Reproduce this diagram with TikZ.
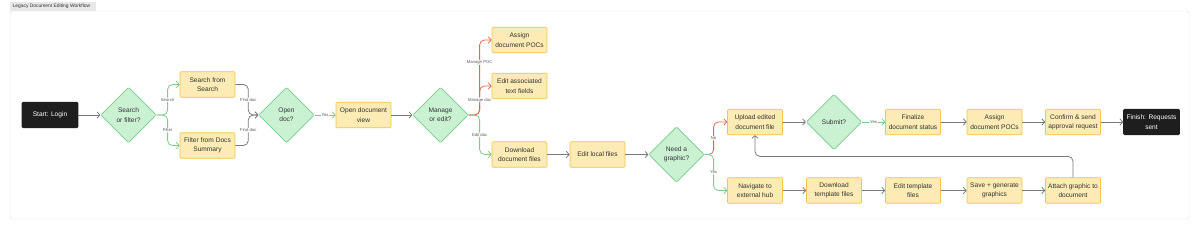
\documentclass[tikz,border=0pt]{standalone}
\usepackage{fontspec}
\setmainfont{Liberation Sans}
\usetikzlibrary{arrows.meta, positioning, shapes.geometric}
\definecolor{boxfill}{HTML}{FCEBB4}
\definecolor{boxline}{HTML}{F2C54B}
\definecolor{decfill}{HTML}{CBF1D3}
\definecolor{decline}{HTML}{72CE8B}
\definecolor{linkgray}{HTML}{7A7A7A}
\definecolor{linkgreen}{HTML}{7BCB8C}
\definecolor{linkred}{HTML}{DE6A4E}
\definecolor{termfill}{HTML}{1E1E1E}
\tikzset{
  stepbox/.style={rectangle, rounded corners=1.5pt, fill=boxfill, draw=boxline, line width=0.9pt,
    minimum width=2.75cm, minimum height=1.28cm, align=center, inner sep=1pt,
    font=\fontsize{9.4}{13.4}\selectfont, text=black!80},
  term/.style={stepbox, fill=termfill, draw=termfill, text=white, minimum width=2.8cm},
  decide/.style={diamond, aspect=1, rounded corners=1.5pt, fill=decfill, draw=decline, line width=0.9pt,
    minimum width=2.78cm, minimum height=2.78cm, inner sep=0pt, align=center,
    font=\fontsize{9.4}{13.4}\selectfont, text=black!80},
  link/.style={-{Straight Barb[length=4pt, width=9pt]}, line width=1.1pt, linkgray, rounded corners=7pt},
  yeslink/.style={link, linkgreen},
  nolink/.style={link, linkred},
  elab/.style={fill=white, inner sep=0.8pt, font=\fontsize{6}{7}\selectfont, text=black!65},
}

\begin{document}
\begin{tikzpicture}[x=0.05cm, y=-0.05cm]
  \useasboundingbox (0,0) rectangle (1200,231);
  % frame and title tab
  \draw[black!10, fill=white, rounded corners=4pt, line width=0.6pt] (10,11) rectangle (1189,219);
  \fill[black!9] (10,2) rectangle (96,11);
  \node[anchor=west, inner sep=0pt, font=\fontsize{7}{8}\selectfont, text=black!80] (title) at (12.5,6.5) {Legacy Document Editing Workflow};

  % find a document
  \node[term] (start) at (50,115) {Start: Login};
  \node[decide] (sof) at (128.5,115) {Search\\or filter?};
  \node[stepbox] (ss) at (207.5,84.5) {Search from\\Search};
  \node[stepbox] (fs) at (207.5,145.5) {Filter from Docs\\Summary};
  \node[decide] (od) at (286.5,115) {Open\\doc?};
  \node[stepbox] (odv) at (363.5,115) {Open document\\view};
  \node[decide] (me) at (440.5,115) {Manage\\or edit?};

  % manage or edit
  \node[stepbox] (apoc) at (519.5,40) {Assign\\document POCs};
  \node[stepbox] (eatf) at (519.5,86) {Edit associated\\text fields};
  \node[stepbox] (ddf) at (519.5,154.5) {Download\\document files};
  \node[stepbox] (elf) at (597.5,154.5) {Edit local files};
  \node[decide] (nag) at (676.5,154.5) {Need a\\graphic?};

  % upload and submit
  \node[stepbox] (up) at (755,122) {Upload edited\\document file};
  \node[decide] (sub) at (834,122) {Submit?};
  \node[stepbox] (fin) at (913,122) {Finalize\\document status};
  \node[stepbox] (apoc2) at (994.5,122) {Assign\\document POCs};
  \node[stepbox] (conf) at (1073,122) {Confirm \& send\\approval request};
  \node[term] (finish) at (1151.5,122) {Finish: Requests\\sent};

  % graphic branch
  \node[stepbox] (nav) at (755,190.5) {Navigate to\\external hub};
  \node[stepbox] (dtf) at (834,190.5) {Download\\template files};
  \node[stepbox] (etf) at (913,190.5) {Edit template\\files};
  \node[stepbox] (sgg) at (994.5,190.5) {Save + generate\\graphics};
  \node[stepbox] (att) at (1073,190.5) {Attach graphic to\\document};

  % connectors
  \draw[link] (start) -- (sof);
  \draw[yeslink] (sof.east) -- ++(11,0) |- node[elab, pos=0.25] (lsrch) {Search} (ss.west);
  \draw[yeslink] (sof.east) -- ++(11,0) |- node[elab, pos=0.25] (lfilt) {Filter} (fs.west);
  \draw[link] (ss.east) -- ++(13,0) |- node[elab, pos=0.25] (lfd1) {Find doc} (od.west);
  \draw[link] (fs.east) -- ++(13,0) |- node[elab, pos=0.25] (lfd2) {Find doc} (od.west);
  \draw[yeslink] (od) -- node[elab] (lyes1) {Yes} (odv);
  \draw[link] (odv) -- (me);
  \draw[nolink] (me.east) -- ++(11,0) |- node[elab, pos=0.35] (lmpoc) {Manage POC} (apoc.west);
  \draw[nolink] (me.east) -- ++(11,0) |- node[elab, pos=0.26] (lmdoc) {Manage doc} (eatf.west);
  \draw[yeslink] (me.east) -- ++(11,0) |- node[elab, pos=0.25] (ledit) {Edit doc} (ddf.west);
  \draw[link] (ddf) -- (elf);
  \draw[link] (elf) -- (nag);
  \draw[nolink] (nag.east) -- ++(9,0) |- node[elab, pos=0.25] (lno) {No} (up.west);
  \draw[yeslink] (nag.east) -- ++(9,0) |- node[elab, pos=0.25] (lyes2) {Yes} (nav.west);
  \draw[link] (up) -- (sub);
  \draw[yeslink] (sub) -- node[elab] (lyes3) {Yes} (fin);
  \draw[link] (fin) -- (apoc2);
  \draw[link] (apoc2) -- (conf);
  \draw[link] (conf) -- (finish);
  \draw[link] (nav) -- (dtf);
  \draw[link] (dtf) -- (etf);
  \draw[link] (etf) -- (sgg);
  \draw[link] (sgg) -- (att);
  \draw[link] (att.north) -- ++(0,-21) -| (up.south);
\end{tikzpicture}
\end{document}
